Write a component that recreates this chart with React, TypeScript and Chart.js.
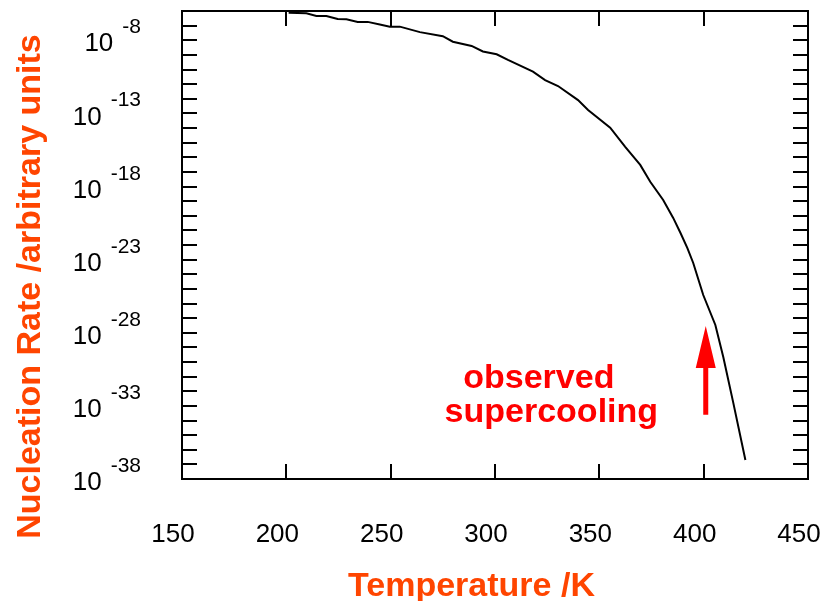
import React, { useEffect, useRef } from 'react';
import { Chart, registerables } from 'chart.js';

Chart.register(...registerables);

// ---- data ----
const temperatures = [
  201.1, 209.6, 214.4, 219.2, 224.6, 228.8, 234.2, 239.0, 244.8, 249.6, 254.4,
  264.0, 275.0, 279.8, 288.8, 294.2, 300.8, 306.2, 318.2, 324.0, 330.2, 339.8,
  344.6, 355.2, 362.4, 369.6, 374.4, 380.6, 385.4, 388.9, 392.2, 395.0, 399.8,
  405.6, 409.4, 414.2, 420.0,
];
const rates = [
  7.6e-7, 6.9e-7, 4.6e-7, 4.6e-7, 2.8e-7, 2.7e-7, 1.8e-7, 1.8e-7, 1.2e-7, 8.5e-8, 8.5e-8,
  3.6e-8, 1.9e-8, 7.9e-9, 4.1e-9, 1.7e-9, 1.1e-9, 4.5e-10, 7.1e-11, 1.9e-11, 7.4e-12, 8.1e-13,
  1.7e-13, 1.05e-14, 5.2e-16, 3.0e-17, 2.1e-18, 1.2e-19, 7.1e-21, 6.6e-22, 6.2e-23, 5.9e-24, 3.8e-26,
  3.4e-28, 2.2e-30, 1.6e-33, 2.0e-37,
];

const xMin = 150;
const xMax = 450;
const xTickValues = [150, 200, 250, 300, 350, 400, 450];
const yMin = 1e-38;
const yMax = 1e-6;
const yLabelExponents = [-8, -13, -18, -23, -28, -33, -38];
const yDecadeExponents = [
  -38, -37, -36, -35, -34, -33, -32, -31, -30, -29, -28, -27, -26, -25, -24, -23,
  -22, -21, -20, -19, -18, -17, -16, -15, -14, -13, -12, -11, -10, -9, -8, -7, -6,
];

const xTitle = 'Temperature /K';
const yTitle = 'Nucleation Rate /arbitrary units';

const noteLines = ['observed', 'supercooling'];
const noteTemperatures = [321, 327];
const noteRates = [1.66e-32, 7.9e-35];
const arrowTemperature = 401;
const arrowTailRate = 2.5e-34;
const arrowTipRate = 2.9e-28;

const FONT = '"Liberation Sans", Arial, Helvetica, sans-serif';
const TITLE_COLOR = '#ff4500';
const NOTE_COLOR = '#ff0000';

const decorPlugin = {
  id: 'decor',
  afterDraw(chart: any) {
    const { ctx, chartArea: a, scales } = chart;
    const xs = scales.x;
    const ys = scales.y;
    ctx.save();

    // frame
    ctx.strokeStyle = '#000';
    ctx.lineWidth = 2;
    ctx.strokeRect(a.left, a.top, a.right - a.left, a.bottom - a.top);

    // inward ticks
    ctx.beginPath();
    for (const e of yDecadeExponents) {
      const py = Math.round(ys.getPixelForValue(Math.pow(10, e)));
      ctx.moveTo(a.left, py);
      ctx.lineTo(a.left + 15, py);
      ctx.moveTo(a.right, py);
      ctx.lineTo(a.right - 15, py);
    }
    for (const v of xTickValues) {
      if (v === xMin || v === xMax) continue;
      const px = Math.round(xs.getPixelForValue(v));
      ctx.moveTo(px, a.bottom);
      ctx.lineTo(px, a.bottom - 15);
      ctx.moveTo(px, a.top);
      ctx.lineTo(px, a.top + 15);
    }
    ctx.stroke();

    // y tick labels: 10 with superscript exponent
    const right = a.left - 41;
    ctx.fillStyle = '#000';
    for (const e of yLabelExponents) {
      const py = ys.getPixelForValue(Math.pow(10, e));
      const sup = String(e);
      ctx.font = `21px ${FONT}`;
      const supW = ctx.measureText(sup).width;
      ctx.textAlign = 'left';
      ctx.textBaseline = 'alphabetic';
      ctx.fillText(sup, right - supW, py - 7);
      ctx.font = `26px ${FONT}`;
      ctx.textAlign = 'right';
      ctx.textBaseline = 'middle';
      ctx.fillText('10', right - supW - 9, py + 4);
    }

    // axis titles
    ctx.fillStyle = TITLE_COLOR;
    ctx.font = `bold 34px ${FONT}`;
    ctx.textAlign = 'center';
    ctx.textBaseline = 'alphabetic';
    ctx.fillText(xTitle, (a.left + a.right) / 2 - 23.5, a.bottom + 117);
    ctx.save();
    ctx.translate(39.5, (a.top + a.bottom) / 2 + 41.5);
    ctx.rotate(-Math.PI / 2);
    ctx.fillText(yTitle, 0, 0);
    ctx.restore();

    // annotation text
    ctx.fillStyle = NOTE_COLOR;
    ctx.font = `bold 34px ${FONT}`;
    ctx.textAlign = 'center';
    ctx.textBaseline = 'alphabetic';
    noteLines.forEach((t, i) => {
      ctx.fillText(t, xs.getPixelForValue(noteTemperatures[i]), ys.getPixelForValue(noteRates[i]));
    });

    // arrow
    const ax = xs.getPixelForValue(arrowTemperature);
    const tipY = ys.getPixelForValue(arrowTipRate);
    const tailY = ys.getPixelForValue(arrowTailRate);
    const headH = 42;
    const headHalf = 10;
    const shaftHalf = 2.5;
    ctx.beginPath();
    ctx.moveTo(ax, tipY);
    ctx.lineTo(ax + headHalf, tipY + headH);
    ctx.lineTo(ax + shaftHalf, tipY + headH);
    ctx.lineTo(ax + shaftHalf, tailY);
    ctx.lineTo(ax - shaftHalf, tailY);
    ctx.lineTo(ax - shaftHalf, tipY + headH);
    ctx.lineTo(ax - headHalf, tipY + headH);
    ctx.closePath();
    ctx.fill();

    ctx.restore();
  },
};

export default function App() {
  const canvasRef = useRef<HTMLCanvasElement | null>(null);

  useEffect(() => {
    if (!canvasRef.current) return;
    const chart = new Chart(canvasRef.current, {
      type: 'line',
      data: {
        datasets: [
          {
            label: 'Nucleation rate',
            data: temperatures.map((t, i) => ({ x: t, y: rates[i] })),
            borderColor: '#000',
            borderWidth: 2,
            pointRadius: 0,
            fill: false,
            tension: 0,
          },
        ],
      },
      options: {
        animation: false,
        responsive: true,
        maintainAspectRatio: false,
        layout: { padding: { top: 11, right: 22, left: 0, bottom: 0 } },
        plugins: {
          legend: { display: false },
          tooltip: { enabled: false },
          title: { display: false },
        },
        scales: {
          x: {
            type: 'linear',
            min: xMin,
            max: xMax,
            afterBuildTicks: (scale: any) => {
              scale.ticks = xTickValues.map((v) => ({ value: v }));
            },
            afterFit: (scale: any) => {
              scale.height = 122;
            },
            grid: { display: false, drawTicks: true, tickLength: 40 },
            border: { display: false },
            ticks: {
              color: '#000',
              font: { family: FONT, size: 26 },
              padding: 0,
              labelOffset: -9,
              maxRotation: 0,
              autoSkip: false,
            },
          },
          y: {
            type: 'logarithmic',
            min: yMin,
            max: yMax,
            afterFit: (scale: any) => {
              scale.width = 182;
            },
            grid: { display: false, drawTicks: false },
            border: { display: false },
            ticks: { display: false },
          },
        },
      },
      plugins: [decorPlugin],
    });
    return () => chart.destroy();
  }, []);

  return (
    <div style={{ position: 'fixed', left: 0, top: 0, width: 830, height: 601, background: '#fff' }}>
      <canvas ref={canvasRef} />
    </div>
  );
}
